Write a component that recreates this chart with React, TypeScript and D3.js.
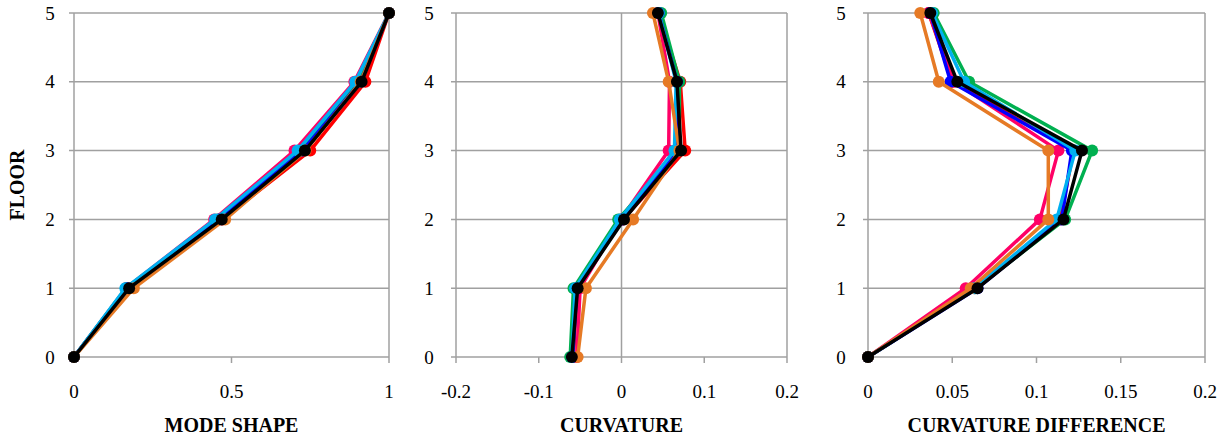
import React from "react";
import * as d3 from "d3";

const floors = [0, 1, 2, 3, 4, 5];
const seriesNames = ["S1", "S2", "S3", "S4", "S5", "S6", "S7"];
const seriesColors = ["#FF0000", "#FF0066", "#00B050", "#0000FF", "#00B0F0", "#E67A25", "#000000"];

// Panel 1: mode shape
const modeShape = [
  [0, 0.17, 0.47, 0.75, 0.925, 1],
  [0, 0.165, 0.445, 0.7, 0.89, 1],
  [0, 0.165, 0.455, 0.72, 0.905, 1],
  [0, 0.168, 0.46, 0.725, 0.91, 1],
  [0, 0.163, 0.448, 0.71, 0.893, 1],
  [0, 0.19, 0.48, 0.735, 0.91, 1],
  [0, 0.175, 0.469, 0.733, 0.913, 1],
];
// Panel 2: curvature
const curvature = [
  [-0.058, -0.054, 0.002, 0.077, 0.071, 0.045],
  [-0.054, -0.05, -0.001, 0.057, 0.058, 0.044],
  [-0.062, -0.058, -0.004, 0.07, 0.07, 0.048],
  [-0.059, -0.054, 0.001, 0.068, 0.067, 0.045],
  [-0.06, -0.056, -0.002, 0.064, 0.066, 0.045],
  [-0.053, -0.043, 0.014, 0.07, 0.057, 0.038],
  [-0.06, -0.053, 0.003, 0.072, 0.067, 0.044],
];
// Panel 3: curvature difference
const curvatureDiff = [
  [0, 0.063, 0.114, 0.122, 0.05, 0.036],
  [0, 0.058, 0.102, 0.113, 0.051, 0.036],
  [0, 0.064, 0.117, 0.133, 0.06, 0.039],
  [0, 0.065, 0.115, 0.121, 0.049, 0.037],
  [0, 0.063, 0.112, 0.123, 0.057, 0.038],
  [0, 0.061, 0.107, 0.107, 0.042, 0.031],
  [0, 0.065, 0.116, 0.127, 0.053, 0.037],
];

const ticks1 = [0, 0.5, 1];
const ticks2 = [-0.2, -0.1, 0, 0.1, 0.2];
const ticks3 = [0, 0.05, 0.1, 0.15, 0.2];
const tickLabels1 = ["0", "0.5", "1"];
const tickLabels2 = ["-0.2", "-0.1", "0", "0.1", "0.2"];
const tickLabels3 = ["0", "0.05", "0.1", "0.15", "0.2"];
const vgrid1 = [1];
const vgrid2 = [0, 0.2];
const vgrid3 = [0.2];
const titles = ["MODE SHAPE", "CURVATURE", "CURVATURE DIFFERENCE"];

const FONT = "'Liberation Serif', 'Times New Roman', serif";
const GRID = "#A0A0A0";

type PanelProps = {
  x0: number;
  x1: number;
  domain: [number, number];
  ticks: number[];
  labels: string[];
  vgrid: number[];
  data: number[][];
  title: string;
  ylabelX: number;
};

function Panel({ x0, x1, domain, ticks, labels, vgrid, data, title, ylabelX }: PanelProps) {
  const x = d3.scaleLinear().domain(domain).range([x0, x1]);
  const y = d3.scaleLinear().domain([0, 5]).range([357, 13]);
  const line = d3
    .line<number>()
    .x((d) => x(d))
    .y((_, i) => y(floors[i]));
  return (
    <g>
      {floors.map((f) => (
        <line key={"h" + f} x1={x0 - 5} x2={x1} y1={y(f)} y2={y(f)} stroke={GRID} strokeWidth={1.5} />
      ))}
      {vgrid.map((v) => (
        <line key={"v" + v} x1={x(v)} x2={x(v)} y1={y(5)} y2={y(0)} stroke={GRID} strokeWidth={1.5} />
      ))}
      <line x1={x0} x2={x0} y1={y(5)} y2={y(0)} stroke={GRID} strokeWidth={1.5} />
      {ticks.map((t) => (
        <line key={"t" + t} x1={x(t)} x2={x(t)} y1={y(0)} y2={y(0) + 6} stroke={GRID} strokeWidth={1.5} />
      ))}
      {ticks.map((t, i) => (
        <text key={"l" + t} x={x(t)} y={398} textAnchor="middle" fontFamily={FONT} fontSize={19} fill="#000">
          {labels[i]}
        </text>
      ))}
      {floors.map((f) => (
        <text key={"yl" + f} x={ylabelX} y={y(f) + 6.5} textAnchor="middle" fontFamily={FONT} fontSize={19} fill="#000">
          {f}
        </text>
      ))}
      <text x={(x0 + x1) / 2} y={432} textAnchor="middle" fontFamily={FONT} fontSize={20} fontWeight="bold" fill="#000">
        {title}
      </text>
      {data.map((s, si) => (
        <g key={seriesNames[si]}>
          <path d={line(s) || ""} fill="none" stroke={seriesColors[si]} strokeWidth={3.5} strokeLinejoin="round" />
          {s.map((v, i) => (
            <circle key={i} cx={x(v)} cy={y(floors[i])} r={6} fill={seriesColors[si]} />
          ))}
        </g>
      ))}
    </g>
  );
}

export default function App() {
  return (
    <svg
      width={1231}
      height={441}
      style={{ position: "absolute", left: 0, top: 0, background: "#fff" }}
    >
      <rect width={1231} height={441} fill="#fff" />
      <Panel x0={74} x1={389} domain={[0, 1]} ticks={ticks1} labels={tickLabels1} vgrid={vgrid1} data={modeShape} title={titles[0]} ylabelX={50} />
      <Panel x0={456} x1={787} domain={[-0.2, 0.2]} ticks={ticks2} labels={tickLabels2} vgrid={vgrid2} data={curvature} title={titles[1]} ylabelX={429} />
      <Panel x0={868} x1={1205} domain={[0, 0.2]} ticks={ticks3} labels={tickLabels3} vgrid={vgrid3} data={curvatureDiff} title={titles[2]} ylabelX={841} />
      <text
        transform="translate(24,185) rotate(-90)"
        textAnchor="middle"
        fontFamily={FONT}
        fontSize={20}
        fontWeight="bold"
        fill="#000"
      >
        FLOOR
      </text>
    </svg>
  );
}
